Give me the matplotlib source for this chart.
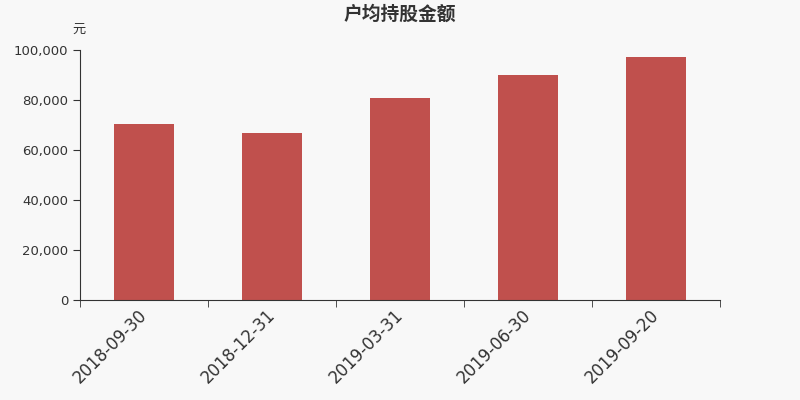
import numpy as np
import matplotlib
matplotlib.use("Agg")
import matplotlib.pyplot as plt
from matplotlib.ticker import FuncFormatter

plt.rcParams['font.family'] = ['DejaVu Sans', 'Noto Sans CJK SC']

dates = ["2018-09-30", "2018-12-31", "2019-03-31", "2019-06-30", "2019-09-20"]
amounts = [70600, 66700, 80700, 90000, 97200]

bg = "#f8f8f8"
fig = plt.figure(figsize=(8, 4), dpi=100, facecolor=bg)
ax = fig.add_axes([0.1, 0.25, 0.8, 0.625], facecolor=bg)

x = np.arange(len(dates))
ax.bar(x, amounts, width=0.47, color="#c0504d", zorder=2)

ax.set_xlim(-0.5, len(dates) - 0.5)
ax.set_ylim(0, 100000)
ax.set_yticks(np.arange(0, 100001, 20000))
ax.yaxis.set_major_formatter(FuncFormatter(lambda v, p: f"{int(v):,}"))

ax.set_xticks(x)
ax.set_xticklabels(dates, rotation=45, ha="right", va="center",
                   rotation_mode="anchor", fontsize=12, color="#333333")
ax.set_xticks(np.arange(-0.5, len(dates)), minor=True)
ax.tick_params(axis="x", which="major", length=0, pad=9)
ax.tick_params(axis="x", which="minor", length=5, color="#333333")
ax.tick_params(axis="y", length=5, color="#333333", labelsize=9.5, labelcolor="#333333")

for s in ["top", "right"]:
    ax.spines[s].set_visible(False)
ax.spines["left"].set_color("#333333")
ax.spines["bottom"].set_color("#333333")

fig.text(0.5, 0.965, "户均持股金额", ha="center", va="center",
         fontsize=13.5, fontweight="bold", color="#333333",
         family=['Noto Sans CJK SC', 'DejaVu Sans'])
fig.text(0.099, 0.928, "元", ha="center", va="center", fontsize=9.5,
         color="#333333", family=['Noto Sans CJK SC', 'DejaVu Sans'])

fig.savefig("out.png", dpi=100, facecolor=bg)
